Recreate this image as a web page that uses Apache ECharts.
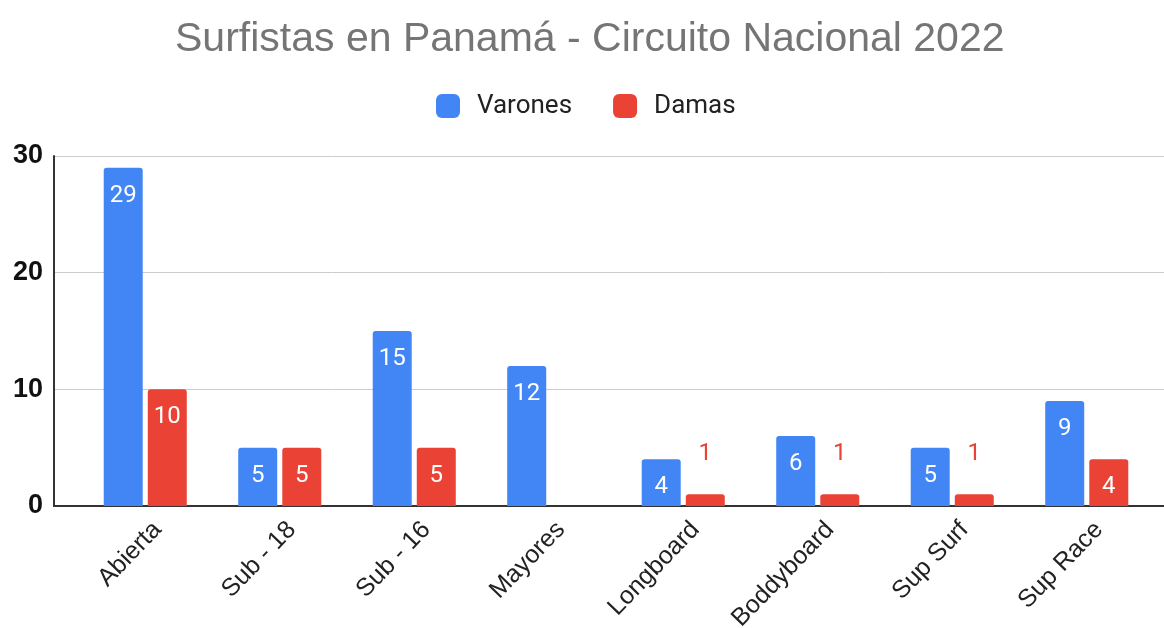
<!DOCTYPE html>
<html>
<head>
<meta charset="utf-8">
<script src="https://cdn.jsdelivr.net/npm/echarts@6/dist/echarts.min.js"></script>
<style>
  html, body { margin: 0; padding: 0; background: #fff; }
  #chart { width: 1164px; height: 628px; }
</style>
</head>
<body>
<div id="chart"></div>
<script>
const categories = ['Abierta', 'Sub - 18', 'Sub - 16', 'Mayores', 'Longboard', 'Boddyboard', 'Sup Surf', 'Sup Race']
const varones = [29, 5, 15, 12, 4, 6, 5, 9]
const damas = [10, 5, 5, 0, 1, 1, 1, 4]
const yTicks = { min: 0, max: 30, interval: 10 }

const BLUE = '#4285f4'
const RED = '#ea4335'

// small bars get their label above, in the series colour
function toItems (values, color) {
  return values.map(v => {
    if (v === 0) return { value: v, label: { show: false } }
    if (v <= 2) return { value: v, label: { position: 'top', distance: 28, color: color } }
    return v
  })
}

const chart = echarts.init(document.getElementById('chart'))
const option = {
  animation: false,
  textStyle: { fontFamily: 'Roboto' },
  title: {
    text: 'Surfistas en Panamá - Circuito Nacional 2022',
    left: 170,
    top: 14,
    textStyle: { fontSize: 41, fontWeight: 'normal', color: '#757575', fontFamily: 'Liberation Sans' }
  },
  legend: {
    top: 88,
    left: 431,
    itemWidth: 24,
    itemHeight: 24,
    itemGap: 41,
    icon: 'roundRect',
    textStyle: { fontSize: 26, color: '#222', padding: [0, 0, 0, 12] },
    data: ['Varones', 'Damas']
  },
  grid: [
    { left: 54, right: 0, top: 156, bottom: 122, outerBoundsMode: 'none' },
    { left: 78, right: 10, top: 156, bottom: 122, outerBoundsMode: 'none' }
  ],
  xAxis: [
    {
      gridIndex: 0, type: 'value', min: 0, max: 1,
      axisLine: { show: true, lineStyle: { color: '#333', width: 2 } },
      axisTick: { show: false }, axisLabel: { show: false }, splitLine: { show: false }
    },
    {
      gridIndex: 1, type: 'category', data: categories,
      axisLine: { show: false }, axisTick: { show: false },
      axisLabel: {
        rotate: 46, fontSize: 25, color: '#222', fontFamily: 'Liberation Sans',
        margin: 8, interval: 0, verticalAlign: 'top', lineHeight: 34
      }
    }
  ],
  yAxis: [
    {
      gridIndex: 0, type: 'value', min: yTicks.min, max: yTicks.max, interval: yTicks.interval,
      axisLine: { show: true, lineStyle: { color: '#333', width: 2 } },
      axisTick: { show: false },
      axisLabel: { fontSize: 27, fontWeight: 'bold', color: '#111', margin: 11, fontFamily: 'Liberation Sans' },
      splitLine: { lineStyle: { color: '#cccccc', width: 1 } }
    },
    {
      gridIndex: 1, type: 'value', min: yTicks.min, max: yTicks.max, interval: yTicks.interval,
      show: false
    }
  ],
  series: [
    {
      name: 'Varones', type: 'bar', xAxisIndex: 1, yAxisIndex: 1,
      data: toItems(varones, BLUE),
      barWidth: 39, barGap: '13%',
      itemStyle: { color: BLUE, borderRadius: [3, 3, 0, 0] },
      label: { show: true, position: 'insideTop', distance: 16, color: '#fff', fontSize: 24 }
    },
    {
      name: 'Damas', type: 'bar', xAxisIndex: 1, yAxisIndex: 1,
      data: toItems(damas, RED),
      barWidth: 39, barGap: '13%',
      itemStyle: { color: RED, borderRadius: [3, 3, 0, 0] },
      label: { show: true, position: 'insideTop', distance: 16, color: '#fff', fontSize: 24 }
    }
  ]
}
chart.setOption(option)
</script>
</body>
</html>
